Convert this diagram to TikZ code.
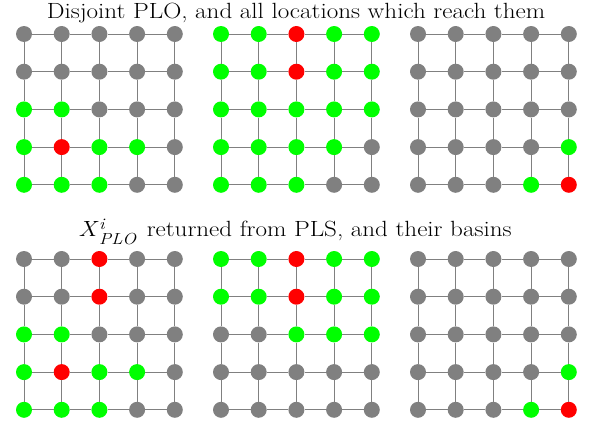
\documentclass[tikz,border=0pt]{standalone}
\usepackage{fontspec}
\setmainfont[FakeStretch=1.14]{Latin Modern Roman}
\definecolor{cG}{HTML}{808080}
\definecolor{cL}{HTML}{00FF00}
\definecolor{cR}{HTML}{FF0000}
\newcommand\mygrid[4]{%
  \foreach \rw [count=\r from 0] in {#4} {
    \foreach \cl [count=\k from 0] in \rw {
      \node[dot,fill=c\cl] (#1-\r-\k) at ({#2+37.7*\k},{#3+37.7*\r}) {};
    }
  }
  \foreach \r in {0,...,4} {
    \foreach \k [evaluate=\k as \kn using int(\k+1)] in {0,...,3} {
      \draw[edge] (#1-\r-\k) -- (#1-\r-\kn);
      \draw[edge] (#1-\k-\r) -- (#1-\kn-\r);
    }
  }
}
\newcommand\scr{\fontsize{16}{16}\selectfont\itshape}
\begin{document}
\begin{tikzpicture}[x=1pt,y=-1pt,
  dot/.style={circle,draw=none,inner sep=0pt,minimum size=16pt},
  edge/.style={draw=cG,line width=1pt},
  title/.style={anchor=base,inner sep=0pt,font=\fontsize{22}{26}\selectfont}]
\useasboundingbox (0,0) rectangle (589,423);
\node[title] (t1) at (296,19) {Disjoint PLO, and all locations which reach them};
\node[title] (t2) at (295,236.7) {\textit{X}\kern0.5pt\rlap{\raisebox{7pt}{\scr i}}\raisebox{-8pt}{\scr PLO}\kern3pt{} returned from PLS, and their basins};
\mygrid{ga}{24}{34}{{G,G,G,G,G},{G,G,G,G,G},{L,L,G,G,G},{L,R,L,L,G},{L,L,L,G,G}}
\mygrid{gb}{221}{34}{{L,L,R,L,L},{L,L,R,L,L},{L,L,L,L,L},{L,L,L,L,G},{L,L,L,G,G}}
\mygrid{gc}{418}{34}{{G,G,G,G,G},{G,G,G,G,G},{G,G,G,G,G},{G,G,G,G,L},{G,G,G,L,R}}
\mygrid{gd}{24}{259}{{G,G,R,G,G},{G,G,R,G,G},{L,L,G,G,G},{L,R,L,L,G},{L,L,L,G,G}}
\mygrid{ge}{221}{259}{{L,L,R,L,L},{L,L,R,L,L},{G,G,L,L,L},{G,G,G,G,G},{G,G,G,G,G}}
\mygrid{gf}{418}{259}{{G,G,G,G,G},{G,G,G,G,G},{G,G,G,G,G},{G,G,G,G,L},{G,G,G,L,R}}
\end{tikzpicture}
\end{document}
